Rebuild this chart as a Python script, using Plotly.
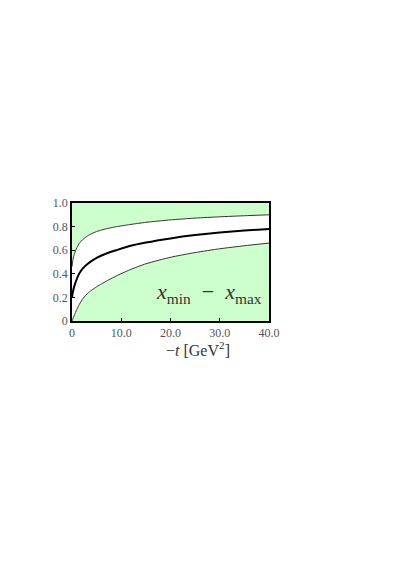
import plotly.graph_objects as go

# -t values [GeV^2] and the x range edges
t_vals = [0, 0.15, 0.4, 0.7, 1.0, 1.5, 2.3, 3.2, 4, 5, 6, 7.5, 9, 11.7,
          15, 20, 25, 30, 35, 40]
x_max = [0.46, 0.51, 0.555, 0.593, 0.622, 0.66, 0.695, 0.722, 0.741, 0.758, 0.771,
         0.787, 0.799, 0.817, 0.836, 0.857, 0.872, 0.883, 0.892, 0.90]
x_mid = [0.20, 0.24, 0.285, 0.325, 0.36, 0.405, 0.45, 0.485, 0.51, 0.535, 0.555,
         0.58, 0.60, 0.635, 0.665, 0.70, 0.728, 0.75, 0.767, 0.78]
x_min = [0.0, 0.016, 0.042, 0.072, 0.10, 0.142, 0.195, 0.235, 0.262, 0.29, 0.315,
         0.35, 0.382, 0.433, 0.485, 0.54, 0.58, 0.612, 0.638, 0.66]

x_ticks = [0, 10, 20, 30, 40]
x_ticktext = ["0", "10.0", "20.0", "30.0", "40.0"]
y_ticks = [0, 0.2, 0.4, 0.6, 0.8, 1.0]
y_ticktext = ["0", "0.2", "0.4", "0.6", "0.8", "1.0"]

green = "#ccffcc"
serif = "Liberation Serif"

fig = go.Figure()

# lower edge, then the allowed band filled white up to the upper edge
fig.add_trace(go.Scatter(x=t_vals, y=x_min, mode="lines", line_shape="spline",
                         line=dict(color="#333333", width=1, smoothing=0.6)))
fig.add_trace(go.Scatter(x=t_vals, y=x_max, mode="lines", line_shape="spline",
                         fill="tonexty", fillcolor="white",
                         line=dict(color="#333333", width=1, smoothing=0.6)))
# central curve
fig.add_trace(go.Scatter(x=t_vals, y=x_mid, mode="lines", line_shape="spline",
                         line=dict(color="black", width=2, smoothing=0.6)))

fig.add_annotation(x=27.9, y=0.24, xref="x", yref="y", showarrow=False,
                   text="<i>x</i><sub>min</sub>  −  <i>x</i><sub>max</sub>",
                   font=dict(family=serif, size=22, color="#333333"))

# axis title sits right of centre in the reference, so place it by hand
fig.add_annotation(x=0.64, y=-0.235, xref="paper", yref="paper", showarrow=False,
                   yanchor="middle", xanchor="center",
                   text="−<i>t</i> [GeV<sup>2</sup>]",
                   font=dict(family=serif, size=16, color="#333333"))

fig.update_layout(
    width=415, height=586,
    margin=dict(l=64, r=154, t=195, b=273),
    paper_bgcolor="white", plot_bgcolor=green,
    showlegend=False,
    font=dict(family=serif, size=12, color="#555555"),
    xaxis=dict(range=[0, 40], tickvals=x_ticks, ticktext=x_ticktext,
               showgrid=False, zeroline=False, ticks="inside", ticklen=3,
               tickcolor="black", showline=True, linecolor="black",
               linewidth=1.5, mirror=True),
    yaxis=dict(range=[0, 1.0], tickvals=y_ticks, ticktext=y_ticktext,
               showgrid=False, zeroline=False, ticks="inside", ticklen=3,
               tickcolor="black", showline=True, linecolor="black",
               linewidth=1.5, mirror=True),
)

fig.write_html("out.html")
